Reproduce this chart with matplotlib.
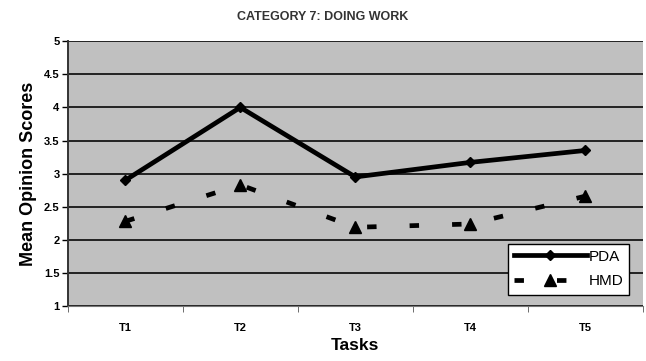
import matplotlib.pyplot as plt
import numpy as np

plt.rcParams['font.family'] = ['Liberation Sans', 'DejaVu Sans']

tasks = ['T1', 'T2', 'T3', 'T4', 'T5']
pda = [2.9, 4.0, 2.95, 3.17, 3.35]
hmd = [2.28, 2.83, 2.19, 2.24, 2.66]
yticks = [1, 1.5, 2, 2.5, 3, 3.5, 4, 4.5, 5]

fig = plt.figure(figsize=(6.46, 3.61), dpi=100)
ax = fig.add_axes([0.105, 0.152, 0.89, 0.734])
ax.set_facecolor('#c0c0c0')

x = np.arange(len(tasks))
ax.plot(x, pda, color='black', lw=3.4, marker='D', ms=5, label='PDA')
ax.plot(x, hmd, color='black', lw=3.4, ls=(0, (2, 7)), marker='^', ms=8, label='HMD')

ax.set_xlim(-0.5, len(tasks) - 0.5)
ax.set_ylim(1, 5)
ax.set_yticks(yticks)
ax.set_yticklabels(['1', '1.5', '2', '2.5', '3', '3.5', '4', '4.5', '5'],
                   fontsize=8, fontweight='bold')
ax.yaxis.grid(True, color='#222222', lw=1.4)
ax.set_axisbelow(True)

ax.set_xticks(x)
ax.set_xticklabels(tasks, fontsize=8, fontweight='bold')
ax.set_xticks(np.arange(-0.5, len(tasks)), minor=True)
ax.tick_params(axis='x', which='major', length=0, pad=12)
ax.tick_params(axis='x', which='minor', length=4, color='#555555')
ax.tick_params(axis='y', length=4, width=1, pad=2)

for side in ['top', 'right']:
    ax.spines[side].set_visible(False)
ax.spines['left'].set_color('#333333')
ax.spines['bottom'].set_color('#777777')
ax.spines['left'].set_linewidth(1.4)

ax.set_ylabel('Mean Opinion Scores', fontsize=13, fontweight='bold', labelpad=5)
ax.set_xlabel('Tasks', fontsize=12.5, fontweight='bold', labelpad=4)
# title sits centred over the whole figure, not the axes
fig.text(0.5, 0.952, 'CATEGORY 7: DOING WORK', fontsize=9, fontweight='bold',
         color='#333333', ha='center', va='center')

leg = ax.legend(loc='lower right', bbox_to_anchor=(0.99, 0.015), fontsize=11,
                frameon=True, fancybox=False, edgecolor='black',
                handlelength=4.8, borderpad=0.4, labelspacing=0.7,
                handletextpad=0.1)
leg.get_frame().set_linewidth(1.0)
leg.get_frame().set_facecolor('white')
leg.get_frame().set_alpha(1)

fig.savefig('out.png', dpi=100)
